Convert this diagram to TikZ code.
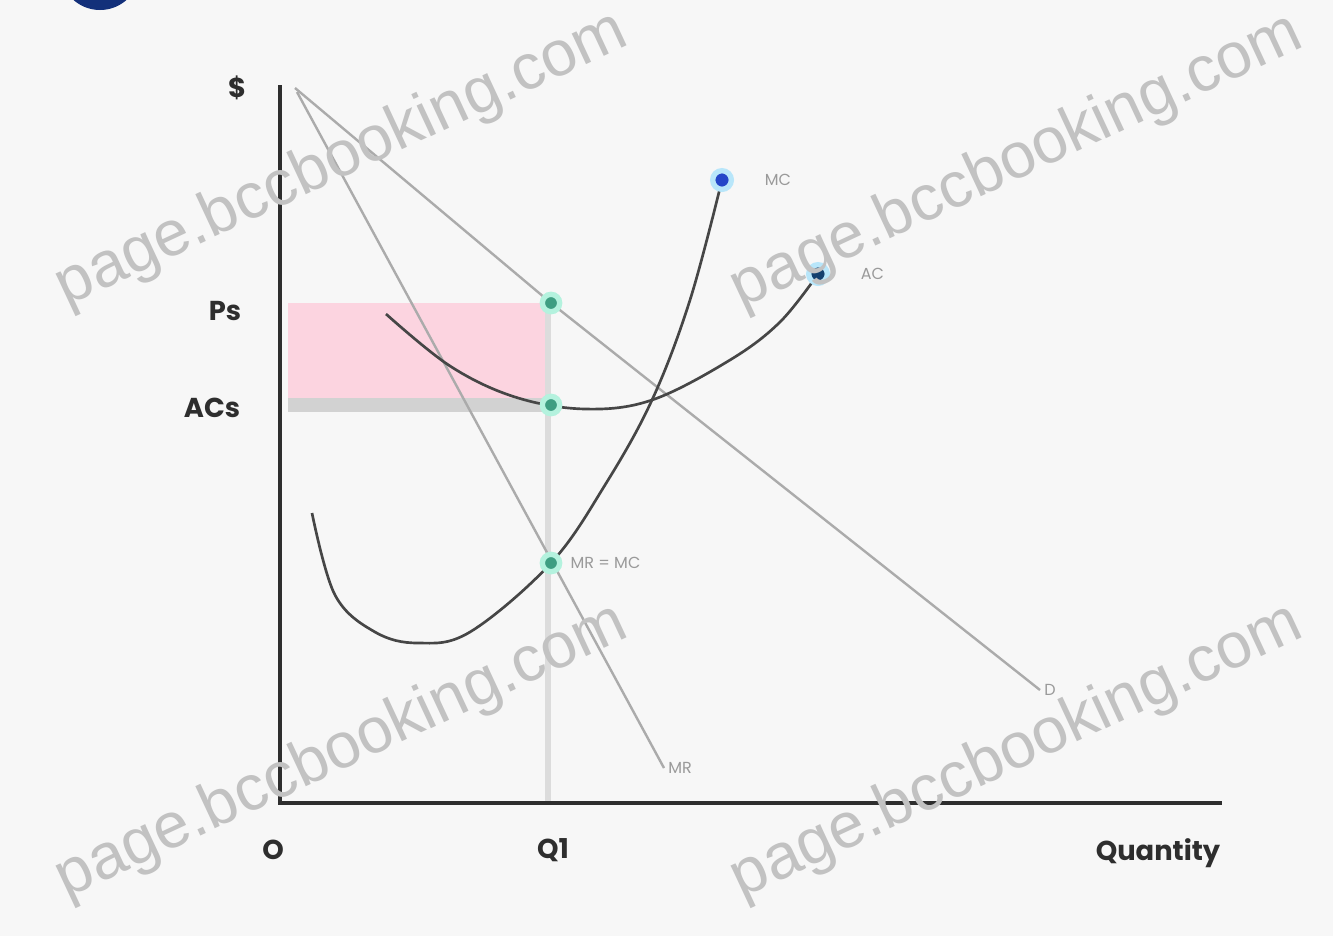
\documentclass[tikz,border=0pt]{standalone}
\usepackage{fontspec}
\setsansfont{Poppins}
\newfontfamily\wmfont{Liberation Sans}
\usepackage{tikz}
\usetikzlibrary{positioning,calc}
\definecolor{bgpaper}{HTML}{F7F7F7}
\definecolor{axisdark}{HTML}{2E2E2E}
\definecolor{curvedark}{HTML}{464646}
\definecolor{raygray}{HTML}{ABABAB}
\definecolor{qgray}{HTML}{DCDCDC}
\definecolor{labgray}{HTML}{9A9A9A}
\definecolor{profitpink}{HTML}{FCD4E0}
\definecolor{stripgray}{HTML}{D2D2D2}
\definecolor{eqgreen}{HTML}{3E9E82}
\definecolor{eqglow}{HTML}{B4F2DE}
\definecolor{mcblue}{HTML}{2446C8}
\definecolor{acblue}{HTML}{14406E}
\definecolor{endglow}{HTML}{B8E6FA}
\definecolor{logoblue}{HTML}{13307A}

\begin{document}
\begin{tikzpicture}[x=0.75pt, y=-0.75pt,
  font=\sffamily,
  axlab/.style={font=\sffamily\bfseries\fontsize{20.5}{20.5}\selectfont, text=axisdark},
  crvlab/.style={font=\sffamily\fontsize{12}{12}\selectfont, text=labgray, anchor=west, inner sep=1pt},
  eqdot/.style={circle, fill=eqgreen, draw=eqglow, line width=4pt,
    minimum size=13pt, inner sep=0pt},
  enddot/.style={circle, draw=endglow, line width=4pt,
    minimum size=14pt, inner sep=0pt},
  curve/.style={draw=curvedark, line width=2pt},
  ray/.style={draw=raygray, line width=1.8pt},
  wmark/.style={font=\wmfont\fontsize{48}{48}\selectfont, text=black!24, rotate=25}
]
\clip (0,0) rectangle (1333,936);
\fill[bgpaper] (0,0) rectangle (1333,936);
\fill[logoblue] (100,-30) circle (40);

% profit box
\fill[profitpink] (288,303) rectangle (548,398);
\fill[stripgray] (288,398) rectangle (548,412);

\coordinate (orig) at (280,803);
\coordinate (ytop) at (280,85);
\coordinate (xend) at (1222,803);
\coordinate (dtop) at (295,88);
\coordinate (dend) at (1040,690);
\coordinate (mrtop) at (297,92);
\coordinate (mrend) at (664,768);
\coordinate (pspt) at (551,303);
\coordinate (acpt) at (551,405);
\coordinate (eqpt) at (551,563);
\coordinate (q1top) at (548,298);
\coordinate (q1base) at (548,803);
\coordinate (mcend) at (722,180);
\coordinate (acend) at (818,274);

\draw[qgray, line width=4pt] (q1top) -- (q1base);

% demand and marginal revenue
\draw[ray] (dtop) -- (pspt) -- (dend);
\draw[ray] (mrtop) -- (mrend);

% cost curves
\draw[curve] plot[smooth, tension=0.6] coordinates {(312,513) (335,595) (375,632) (418,643)
  (470,632) (551,563) (605,485) (652,400) (690,300) (722,180)};
\draw[curve] plot[smooth, tension=0.6] coordinates {(386,314) (450,366) (515,397) (585,409)
  (652,400) (730,360) (780,322) (818,274)};

% axes
\draw[axisdark, line width=2.5pt] (ytop) -- (orig) -- (xend);

\node[eqdot] (ps) at (pspt) {};
\node[eqdot] (acs) at (acpt) {};
\node[eqdot] (eq) at (eqpt) {};
\node[enddot, fill=mcblue] (mc) at (mcend) {};
\node[enddot, fill=acblue] (ac) at (acend) {};

\node[crvlab, right=22pt of mc] (mclab) {MC};
\node[crvlab, right=22pt of ac] (aclab) {AC};
\node[crvlab, right=5pt of eq] (eqlab) {MR = MC};
\node[crvlab, right=2pt of mrend] (mrlab) {MR};
\node[crvlab, right=2pt of dend] (dlab) {D};

\node[axlab] (dollar) at (237,88) {\$};
\node[axlab] (pslab) at (225,311) {Ps};
\node[axlab] (acslab) at (212,408) {ACs};
\node[axlab] (olab) at (273,850) {O};
\node[axlab] (q1lab) at (553,850) {Q1};
\node[axlab] (qlab) at (1158,853) {Quantity};

% watermarks
\node[wmark] (wm1) at (342,160) {page.bccbooking.com};
\node[wmark] (wm2) at (1017,162) {page.bccbooking.com};
\node[wmark] (wm3) at (342,752) {page.bccbooking.com};
\node[wmark] (wm4) at (1017,752) {page.bccbooking.com};
\end{tikzpicture}
\end{document}
